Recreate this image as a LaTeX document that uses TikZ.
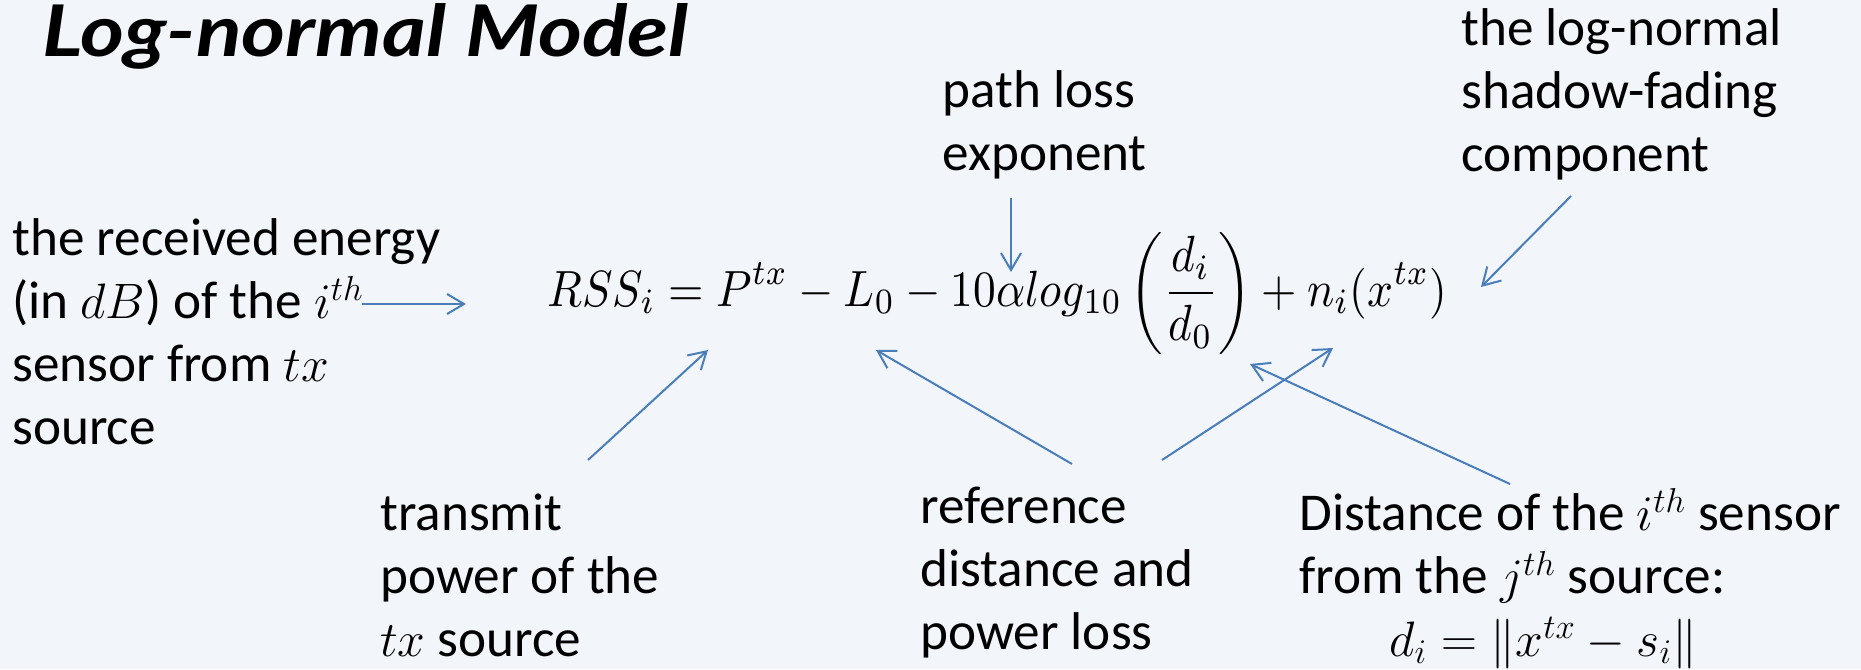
\documentclass[tikz,border=0pt]{standalone}
\usepackage{fontspec}
\usepackage{graphicx}
\setmainfont{Carlito}
\newfontfamily\titlefont{Lato}
\usetikzlibrary{arrows.meta}
\definecolor{bgc}{HTML}{F2F5FA}
\definecolor{arr}{HTML}{4A7EBB}
\tikzset{
  lbl/.style={anchor=north west, inner sep=0pt, align=left, font=\fontsize{26.6}{31.5}\selectfont},
  conn/.style={draw=arr, line width=1pt, -{Straight Barb[length=8.5pt,width=10pt,line width=1pt]}}
}
\begin{document}
\begin{tikzpicture}[x=0.5pt,y=-0.5pt]
\fill[bgc] (0,0) rectangle (1861,669);
\useasboundingbox (0,0) rectangle (1861,669);
% title
\node[anchor=base west, inner sep=0pt] (title) at (42,56)
  {\resizebox{323pt}{26.5pt}{\titlefont\bfseries\itshape Log-normal Model}};
% formula
\node[anchor=base west, inner sep=0pt] (eq) at (547,306)
  {\scalebox{1}[1.12]{\resizebox{450pt}{!}{$\displaystyle RSS_i = P^{tx} - L_0 - 10\alpha log_{10}\left(\frac{d_i}{d_0}\right) + n_i(x^{tx})$}}};
% labels
\node[lbl] (recv) at (12,210.9) {\strut the received energy\\\strut (in $dB$) of the $i^{th}$\\\strut sensor from $tx$\\\strut source};
\node[lbl] (ple) at (942,62.9) {\strut path loss\\\strut exponent};
\node[lbl] (shadow) at (1461,0.9) {\strut the log-normal\\\strut shadow-fading\\\strut component};
\node[lbl] (tpow) at (380,485.9) {\strut transmit\\\strut power of the\\\strut $tx$ source};
\node[lbl] (refd) at (920,478.9) {\strut reference\\\strut distance and\\\strut power loss};
\node[lbl] (dist) at (1299,485.9) {\strut Distance of the $i^{th}$ sensor\\\strut from the $j^{th}$ source:\\\strut\hspace*{45pt}$d_i = \|x^{tx} - s_i\|$};
% connector end points
\coordinate (recvS) at (362,304);  \coordinate (recvE) at (466,304);
\coordinate (pleS) at (1011,198);  \coordinate (pleE) at (1011,272);
\coordinate (shS) at (1571,196);   \coordinate (shE) at (1481,287);
\coordinate (tpS) at (588,460);    \coordinate (tpE) at (708,350);
\coordinate (rdS1) at (1072,464);  \coordinate (rdE1) at (876,350);
\coordinate (rdS2) at (1162,460);  \coordinate (rdE2) at (1333,348);
\coordinate (diS) at (1510,484);   \coordinate (diE) at (1250,364);
% connectors
\draw[conn] (recvS) -- (recvE);
\draw[conn] (pleS) -- (pleE);
\draw[conn] (shS) -- (shE);
\draw[conn] (tpS) -- (tpE);
\draw[conn] (rdS1) -- (rdE1);
\draw[conn] (rdS2) -- (rdE2);
\draw[conn] (diS) -- (diE);
\end{tikzpicture}
\end{document}
